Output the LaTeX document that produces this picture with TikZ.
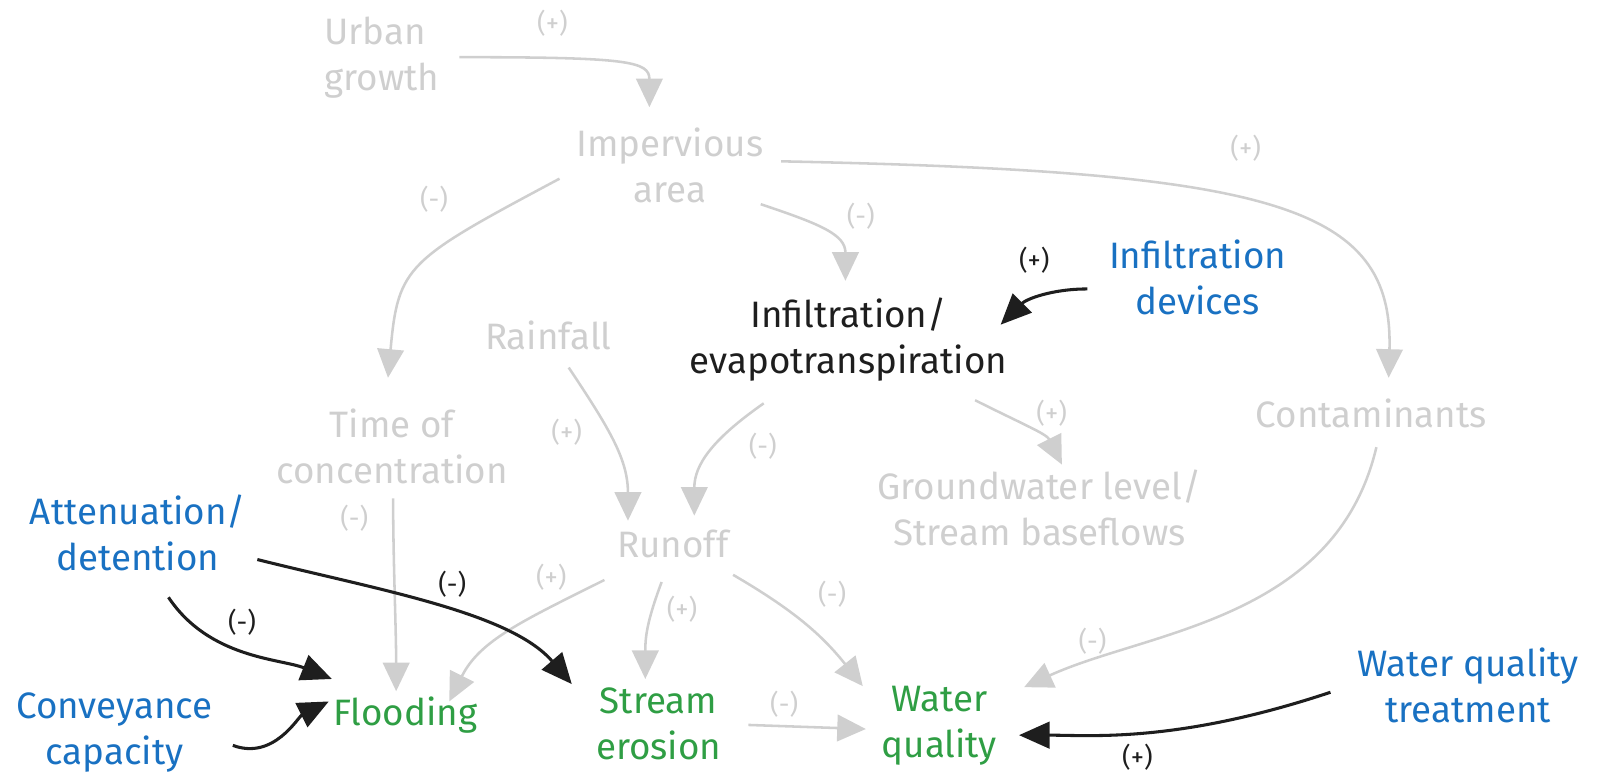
\documentclass[tikz,border=0pt]{standalone}
\usepackage{fontspec}
\setmainfont{Fira Sans}
\usepackage{tikz}
\usetikzlibrary{arrows.meta}
\definecolor{faded}{HTML}{CFCFCF}
\definecolor{devblue}{HTML}{1971C2}
\definecolor{impgreen}{HTML}{2F9E44}
\definecolor{ink}{HTML}{1E1E1E}
\tikzstyle{var}=[align=center,inner sep=0pt,font=\fontsize{18}{22.5}\selectfont]
\tikzstyle{bgvar}=[var,text=faded]
\tikzstyle{devvar}=[var,text=devblue]
\tikzstyle{impvar}=[var,text=impgreen]
\tikzstyle{sgn}=[inner sep=0pt,font=\fontsize{13}{15}\selectfont]
\tikzstyle{link}=[faded,line width=1.25pt,-{Triangle[length=14pt,width=13pt]}]
\tikzstyle{lever}=[ink,line width=1.5pt,-{Triangle[length=15pt,width=13pt]}]

\begin{document}
\begin{tikzpicture}[x=0.5pt,y=0.5pt]
\useasboundingbox (0,0) rectangle (1568,-763);
% variables
\node[bgvar,align=left] (urban) at (374,-56) {Urban\\growth};
\node[bgvar] (imp) at (656,-162) {Impervious\\area};
\node[var,text=ink] (infev) at (831,-333) {Infiltration/\\evapotranspiration};
\node[devvar] (infdev) at (1173,-272) {Infiltration\\devices};
\node[bgvar] (rain) at (537,-328) {Rainfall};
\node[bgvar] (toc) at (384,-437) {Time of\\concentration};
\node[bgvar] (cont) at (1343,-405) {Contaminants};
\node[bgvar] (gw) at (1018,-497) {Groundwater level/\\Stream baseflows};
\node[bgvar] (runoff) at (659,-533) {Runoff};
\node[devvar] (atten) at (135,-522) {Attenuation/\\detention};
\node[impvar] (flood) at (397,-700) {Flooding};
\node[impvar] (erosion) at (645,-709) {Stream\\erosion};
\node[impvar] (wq) at (920,-711) {Water\\quality};
\node[devvar] (conv) at (112,-717) {Conveyance\\capacity};
\node[devvar] (wqt) at (1438,-671) {Water quality\\treatment};

% background links
\draw[link] ([shift={(76,0)}]urban.center) .. controls +(165,0) and +(0,45) .. ([shift={(-20,57)}]imp.center);
\draw[link] ([shift={(-108,-13)}]imp.center) .. controls +(-150,-80) and +(10,110) .. ([shift={(-4,67)}]toc.center);
\draw[link] ([shift={(89,-38)}]imp.center) .. controls +(60,-20) and +(0,45) .. ([shift={(-3,58)}]infev.center);
\draw[link] ([shift={(109,4)}]imp.center) .. controls +(480,-10) and +(5,170) .. ([shift={(17,35)}]cont.center);
\draw[link] ([shift={(20,-32)}]rain.center) .. controls +(40,-60) and +(0,60) .. ([shift={(-44,23)}]runoff.center);
\draw[link] ([shift={(-83,-62)}]infev.center) .. controls +(-50,-35) and +(0,50) .. ([shift={(21,28)}]runoff.center);
\draw[link] ([shift={(124,-59)}]infev.center) .. controls +(50,-25) and +(-15,30) .. ([shift={(22,42)}]gw.center);
\draw[link] ([shift={(1,-51)}]toc.center) .. controls +(0,-60) and +(0,60) .. ([shift={(-9,23)}]flood.center);
\draw[link] ([shift={(-67,-35)}]runoff.center) .. controls +(-80,-40) and +(30,60) .. ([shift={(43,13)}]flood.center);
\draw[link] ([shift={(-11,-37)}]runoff.center) .. controls +(-15,-40) and +(0,40) .. ([shift={(-13,44)}]erosion.center);
\draw[link] ([shift={(59,-30)}]runoff.center) .. controls +(60,-35) and +(-40,50) .. ([shift={(-75,39)}]wq.center);
\draw[link] ([shift={(5,-33)}]cont.center) .. controls +(-40,-170) and +(120,55) .. ([shift={(83,38)}]wq.center);
\draw[link] ([shift={(88,-1)}]erosion.center) -- ([shift={(-72,-3)}]wq.center);

% interventions
\draw[lever] ([shift={(-108,-11)}]infdev.center) .. controls +(-35,0) and +(25,25) .. ([shift={(149,15)}]infev.center);
\draw[lever] ([shift={(30,-63)}]atten.center) .. controls +(40,-60) and +(-50,20) .. ([shift={(-72,35)}]flood.center);
\draw[lever] ([shift={(117,-26)}]atten.center) .. controls +(120,-30) and +(-60,70) .. ([shift={(-85,39)}]erosion.center);
\draw[lever] ([shift={(116,-13)}]conv.center) .. controls +(40,-15) and +(-30,-15) .. ([shift={(-75,13)}]flood.center);
\draw[lever] ([shift={(-135,-7)}]wqt.center) .. controls +(-150,-50) and +(70,0) .. ([shift={(78,-9)}]wq.center);

% polarities
\foreach \n/\x/\y/\s in {p1/541/-23/+, p2/425/-195/-, p3/843/-212/-, p4/1220/-145/+,
    p5/555/-423/+, p6/747/-437/-, p7/1030/-405/+, p8/347/-508/-, p9/540/-565/+,
    p10/668/-597/+, p11/815/-582/-, p12/1070/-628/-, p13/768/-690/-}
  \node[sgn,text=faded] (\n) at (\x,\y) {(\s)};
\foreach \n/\x/\y/\s in {q1/1013/-255/+, q2/237/-609/-, q3/443/-572/-, q4/1114/-742/+}
  \node[sgn,text=ink] (\n) at (\x,\y) {(\s)};
\end{tikzpicture}
\end{document}
